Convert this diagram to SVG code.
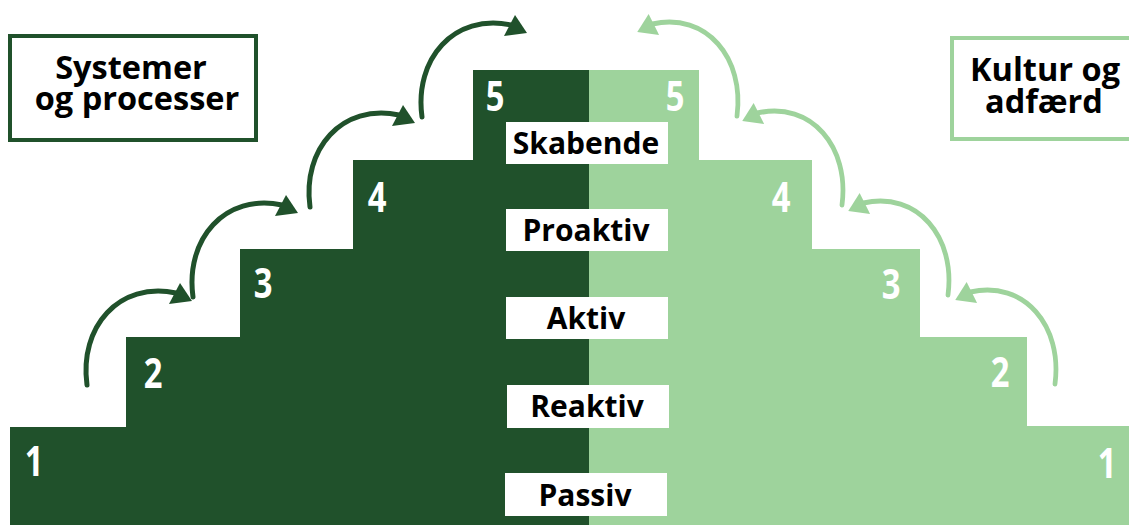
<svg xmlns="http://www.w3.org/2000/svg" width="1129" height="525" viewBox="0 0 1129 525">
  <style>
    .dark { fill: #20512b; }
    .light { fill: #9ed39c; }
    .title { font-family: "Open Sans", "Noto Sans", "Liberation Sans", sans-serif; font-weight: 700; font-size: 32.5px; fill: #000; text-anchor: middle; }
    .lvl-box { fill: #fff; }
    .lvl-text { font-family: "Open Sans", "Noto Sans", "Liberation Sans", sans-serif; font-weight: 700; font-size: 30px; fill: #000; text-anchor: middle; }
    .num { font-family: "Open Sans", "Noto Sans", "Liberation Sans", sans-serif; font-weight: 700; font-size: 42px; fill: #fff; text-anchor: middle; }
    .arc { fill: none; stroke-width: 5; stroke-linecap: round; }
  </style>
  <defs>
    <!-- one curved step arrow, drawn from its tail at the origin -->
    <g id="stepArrow">
      <path class="arc" d="M0,0 C-8,-58 32,-104 89,-92"/>
      <polygon points="105,-84 93,-102 82,-81" stroke="none"/>
    </g>
  </defs>

  <rect width="1129" height="525" fill="#fff"/>

  <!-- left staircase: systems and processes -->
  <g id="stairs-left">
    <polygon class="dark" points="10,525 10,427 126,427 126,337 240,337 240,249 353,249 353,160 473,160 473,70 589,70 589,525"/>
    <g class="num">
      <text transform="translate(34,476) scale(0.78,1)">1</text>
      <text transform="translate(153,388) scale(0.78,1)">2</text>
      <text transform="translate(263,298) scale(0.78,1)">3</text>
      <text transform="translate(377,212) scale(0.78,1)">4</text>
      <text transform="translate(495,111) scale(0.78,1)">5</text>
    </g>
  </g>

  <!-- right staircase: culture and behaviour -->
  <g id="stairs-right">
    <polygon class="light" points="589,70 699,70 699,160 812,160 812,249 920,249 920,337 1027,337 1027,426 1129,426 1129,525 589,525"/>
    <g class="num">
      <text transform="translate(675,111) scale(0.78,1)">5</text>
      <text transform="translate(781,212) scale(0.78,1)">4</text>
      <text transform="translate(891,299) scale(0.78,1)">3</text>
      <text transform="translate(1000,387) scale(0.78,1)">2</text>
      <text transform="translate(1107,478) scale(0.78,1)">1</text>
    </g>
  </g>

  <!-- level labels -->
  <g id="level-5">
    <rect class="lvl-box" x="506" y="122" width="162" height="42"/>
    <text class="lvl-text" x="586" y="154">Skabende</text>
  </g>
  <g id="level-4">
    <rect class="lvl-box" x="506" y="209" width="162" height="42"/>
    <text class="lvl-text" x="586" y="241">Proaktiv</text>
  </g>
  <g id="level-3">
    <rect class="lvl-box" x="506" y="297" width="162" height="42"/>
    <text class="lvl-text" x="586" y="329">Aktiv</text>
  </g>
  <g id="level-2">
    <rect class="lvl-box" x="507" y="385" width="162" height="43"/>
    <text class="lvl-text" x="587" y="417">Reaktiv</text>
  </g>
  <g id="level-1">
    <rect class="lvl-box" x="505" y="473" width="162" height="43"/>
    <text class="lvl-text" x="585" y="506">Passiv</text>
  </g>

  <!-- heading boxes -->
  <g id="title-left">
    <rect x="10" y="36" width="246" height="104" fill="#fff" stroke="#20512b" stroke-width="4"/>
    <text class="title" x="131" y="79">Systemer</text>
    <text class="title" x="137" y="110">og processer</text>
  </g>
  <g id="title-right">
    <rect x="952" y="38" width="200" height="101" fill="#fff" stroke="#9ed39c" stroke-width="4"/>
    <text class="title" x="1045" y="81">Kultur og</text>
    <text class="title" x="1044" y="113">adfærd</text>
  </g>

  <!-- connectors: step-up arrows -->
  <g id="connectors">
    <g fill="#20512b" stroke="#20512b">
      <use href="#stepArrow" transform="translate(87,385)"/>
      <use href="#stepArrow" transform="translate(193,297)"/>
      <use href="#stepArrow" transform="translate(310,207)"/>
      <use href="#stepArrow" transform="translate(422,117)"/>
    </g>
    <g fill="#9ed39c" stroke="#9ed39c">
      <use href="#stepArrow" transform="translate(1055,384) scale(-0.95,1)"/>
      <use href="#stepArrow" transform="translate(948,295) scale(-0.95,1)"/>
      <use href="#stepArrow" transform="translate(842,205) scale(-0.95,1)"/>
      <use href="#stepArrow" transform="translate(737,116) scale(-0.95,1)"/>
    </g>
  </g>
</svg>
